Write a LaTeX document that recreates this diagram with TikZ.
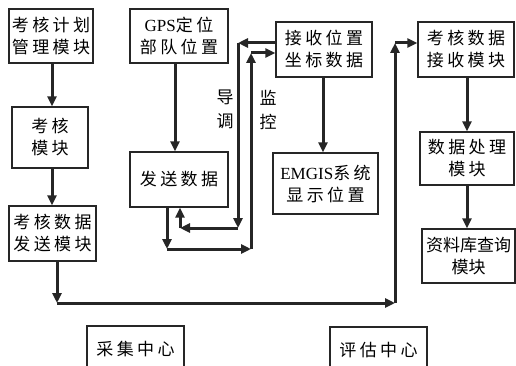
\documentclass[tikz,border=0pt]{standalone}
\usepackage{fontspec}
\setmainfont{Liberation Serif}
\newfontfamily\cjk[LetterSpace=20]{Noto Sans CJK SC}
\newfontfamily\cjktight{Noto Sans CJK SC}
\newfontfamily\lat{Liberation Serif}
\usetikzlibrary{arrows.meta}
\begin{document}
\begin{tikzpicture}[x=1pt,y=-1pt,
  box/.style={draw=black!85,line width=1.3pt,inner sep=0pt,align=center,
    font=\cjk\fontsize{17}{22}\selectfont},
  lab/.style={inner sep=0pt,align=center,font=\cjk\fontsize{17}{24}\selectfont},
  arr/.style={draw=black!85,line width=3pt,-{Triangle[length=10pt,width=9pt]}}]
\useasboundingbox (0,0) rectangle (516,366);
% boxes
\node[box,minimum width=84pt,minimum height=54pt] (plan) at (51,36) {考核计划\\管理模块};
\node[box,minimum width=76pt,minimum height=61pt] (kh) at (50,137.5) {考核\\模块};
\node[box,minimum width=87pt,minimum height=55pt] (send) at (52.5,233.5) {考核数据\\发送模块};
\node[box,minimum width=97pt,minimum height=46pt] (caiji) at (135.5,349) {采集中心};
\node[box,minimum width=97pt,minimum height=46pt] (pinggu) at (378.5,350) {评估中心};
\node[box,minimum width=98pt,minimum height=54pt] (gps) at (179,36) {{\lat GPS}定位\\部队位置};
\node[box,minimum width=98pt,minimum height=55pt] (fs) at (179,179.5) {发送数据};
\node[box,minimum width=96pt,minimum height=55pt] (js) at (324,49.5) {接收位置\\坐标数据};
\node[box,minimum width=105pt,minimum height=61pt] (em) at (325.5,183.5) {{\lat EMGIS}系统\\显示位置};
\node[box,minimum width=96pt,minimum height=55pt] (kr) at (466,49.5) {考核数据\\接收模块};
\node[box,minimum width=94pt,minimum height=53pt] (proc) at (467,158.5) {数据处理\\模块};
\node[box,minimum width=93pt,minimum height=54pt,font=\cjktight\fontsize{17}{22}\selectfont] (db) at (468.5,256) {资料库查询\\模块};
% labels
\node[lab] (dd) at (225,109) {导\\调};
\node[lab] (jk) at (268,110) {监\\控};
% coordinates
\coordinate (s1) at (57,303);
\coordinate (s2) at (395,303);
\coordinate (s3) at (395,43);
\coordinate (a1) at (238,43);
\coordinate (a2) at (238,228);
\coordinate (a3) at (180,228);
\coordinate (b1) at (167,249);
\coordinate (b2) at (251,249);
\coordinate (b3) at (251,53);
% straight arrows
\draw[arr] (plan.south -| 52,0) -- (kh.north -| 52,0);
\draw[arr] (kh.south -| 52,0) -- (send.north -| 52,0);
\draw[arr] (gps.south -| 175,0) -- (fs.north -| 175,0);
\draw[arr] (js.south -| 323,0) -- (em.north -| 323,0);
\draw[arr] (kr.south -| 467,0) -- (proc.north -| 467,0);
\draw[arr] (proc.south -| 467,0) -- (db.north -| 467,0);
% send -> receive path
\draw[arr] (send.south -| s1) -- (s1);
\draw[arr] (s1) -- (s2);
\draw[arr] (s2) -- (s3);
\draw[arr] (s3) -- (kr.west |- s3);
% loop A (导调)
\draw[arr] (js.west |- a1) -- (a1);
\draw[arr] (a1) -- (a2);
\draw[arr] (a2) -- (a3);
\draw[arr] (a3) -- (fs.south -| a3);
% loop B (监控)
\draw[arr] (fs.south -| b1) -- (b1);
\draw[arr] (b1) -- (b2);
\draw[arr] (b2) -- (b3);
\draw[arr] (b3) -- (js.west |- b3);
\end{tikzpicture}
\end{document}
